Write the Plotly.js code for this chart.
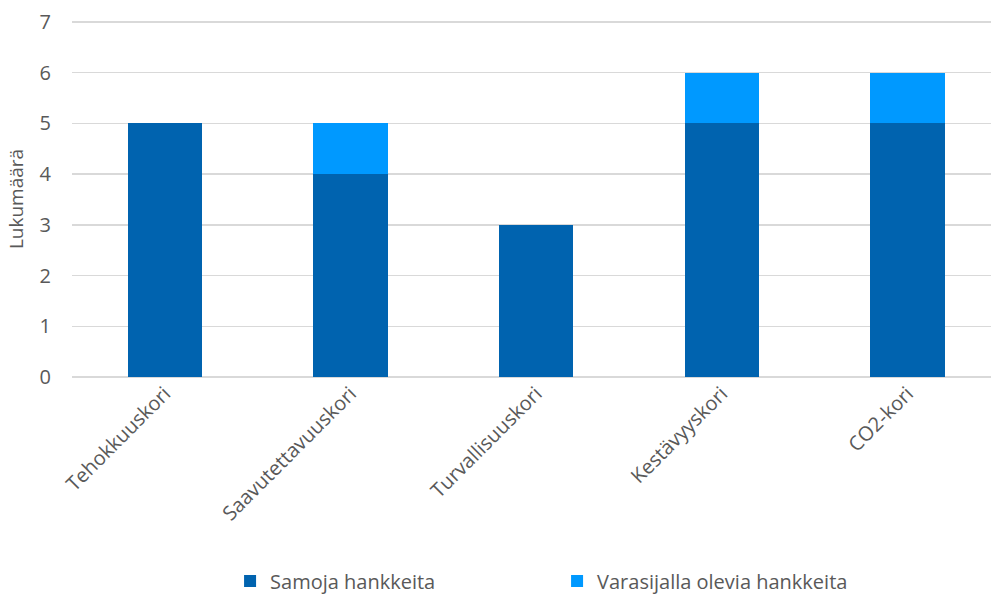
<!DOCTYPE html>
<html>
<head>
<meta charset="utf-8">
<script src="https://cdn.plot.ly/plotly-3.0.1.min.js"></script>
<style>
  html, body { margin: 0; padding: 0; background: white; }
  #chart { width: 991px; height: 594px; }
</style>
</head>
<body>
<div id="chart"></div>
<script>
// Chart data
const categories = ['Tehokkuuskori', 'Saavutettavuuskori', 'Turvallisuuskori', 'Kestävyyskori', 'CO2-kori'];
const samojaHankkeita = [5, 4, 3, 5, 5];
const varasijallaHankkeita = [0, 1, 0, 1, 1];
const seriesNames = ['Samoja hankkeita', 'Varasijalla olevia hankkeita'];

const textColor = '#595959';
const fontFamily = '"Open Sans", "DejaVu Sans", sans-serif';

let traces = [
    {
        x: categories,
        y: samojaHankkeita,
        name: seriesNames[0],
        type: 'bar',
        width: 0.4,
        marker: { color: '#0063AF' },
        hoverinfo: 'none'
    },
    {
        x: categories,
        y: varasijallaHankkeita,
        name: seriesNames[1],
        type: 'bar',
        width: 0.4,
        marker: { color: '#0099FF' },
        hoverinfo: 'none'
    }
];

let layout = {
    width: 991,
    height: 594,
    autosize: false,
    barmode: 'stack',
    margin: { l: 72, r: 0, t: 21, b: 217, pad: 0, autoexpand: false },
    paper_bgcolor: 'white',
    plot_bgcolor: 'white',
    font: { family: fontFamily, size: 19, color: textColor },
    showlegend: true,
    legend: {
        orientation: 'h',
        traceorder: 'normal',
        x: 0.172,
        xanchor: 'left',
        y: -0.573,
        yanchor: 'middle',
        font: { size: 20, color: textColor },
        itemwidth: 30,
        entrywidth: 282,
        entrywidthmode: 'pixels'
    },
    xaxis: {
        type: 'category',
        range: [-0.5, 4.45],
        tickangle: -45,
        showgrid: false,
        showline: false,
        ticks: '',
        automargin: false,
        tickfont: { size: 20, color: textColor },
        fixedrange: true
    },
    yaxis: {
        range: [0, 7.02],
        dtick: 1,
        showgrid: true,
        gridcolor: '#d9d9d9',
        gridwidth: 1.5,
        zeroline: true,
        zerolinecolor: '#d9d9d9',
        zerolinewidth: 1.5,
        ticks: '',
        ticklabelstandoff: 20,
        automargin: false,
        tickfont: { size: 20, color: textColor },
        title: { text: 'Lukumäärä', font: { size: 19, color: textColor }, standoff: 10 },
        fixedrange: true
    }
};

Plotly.newPlot('chart', traces, layout, { displayModeBar: false, staticPlot: true });
</script>
</body>
</html>
